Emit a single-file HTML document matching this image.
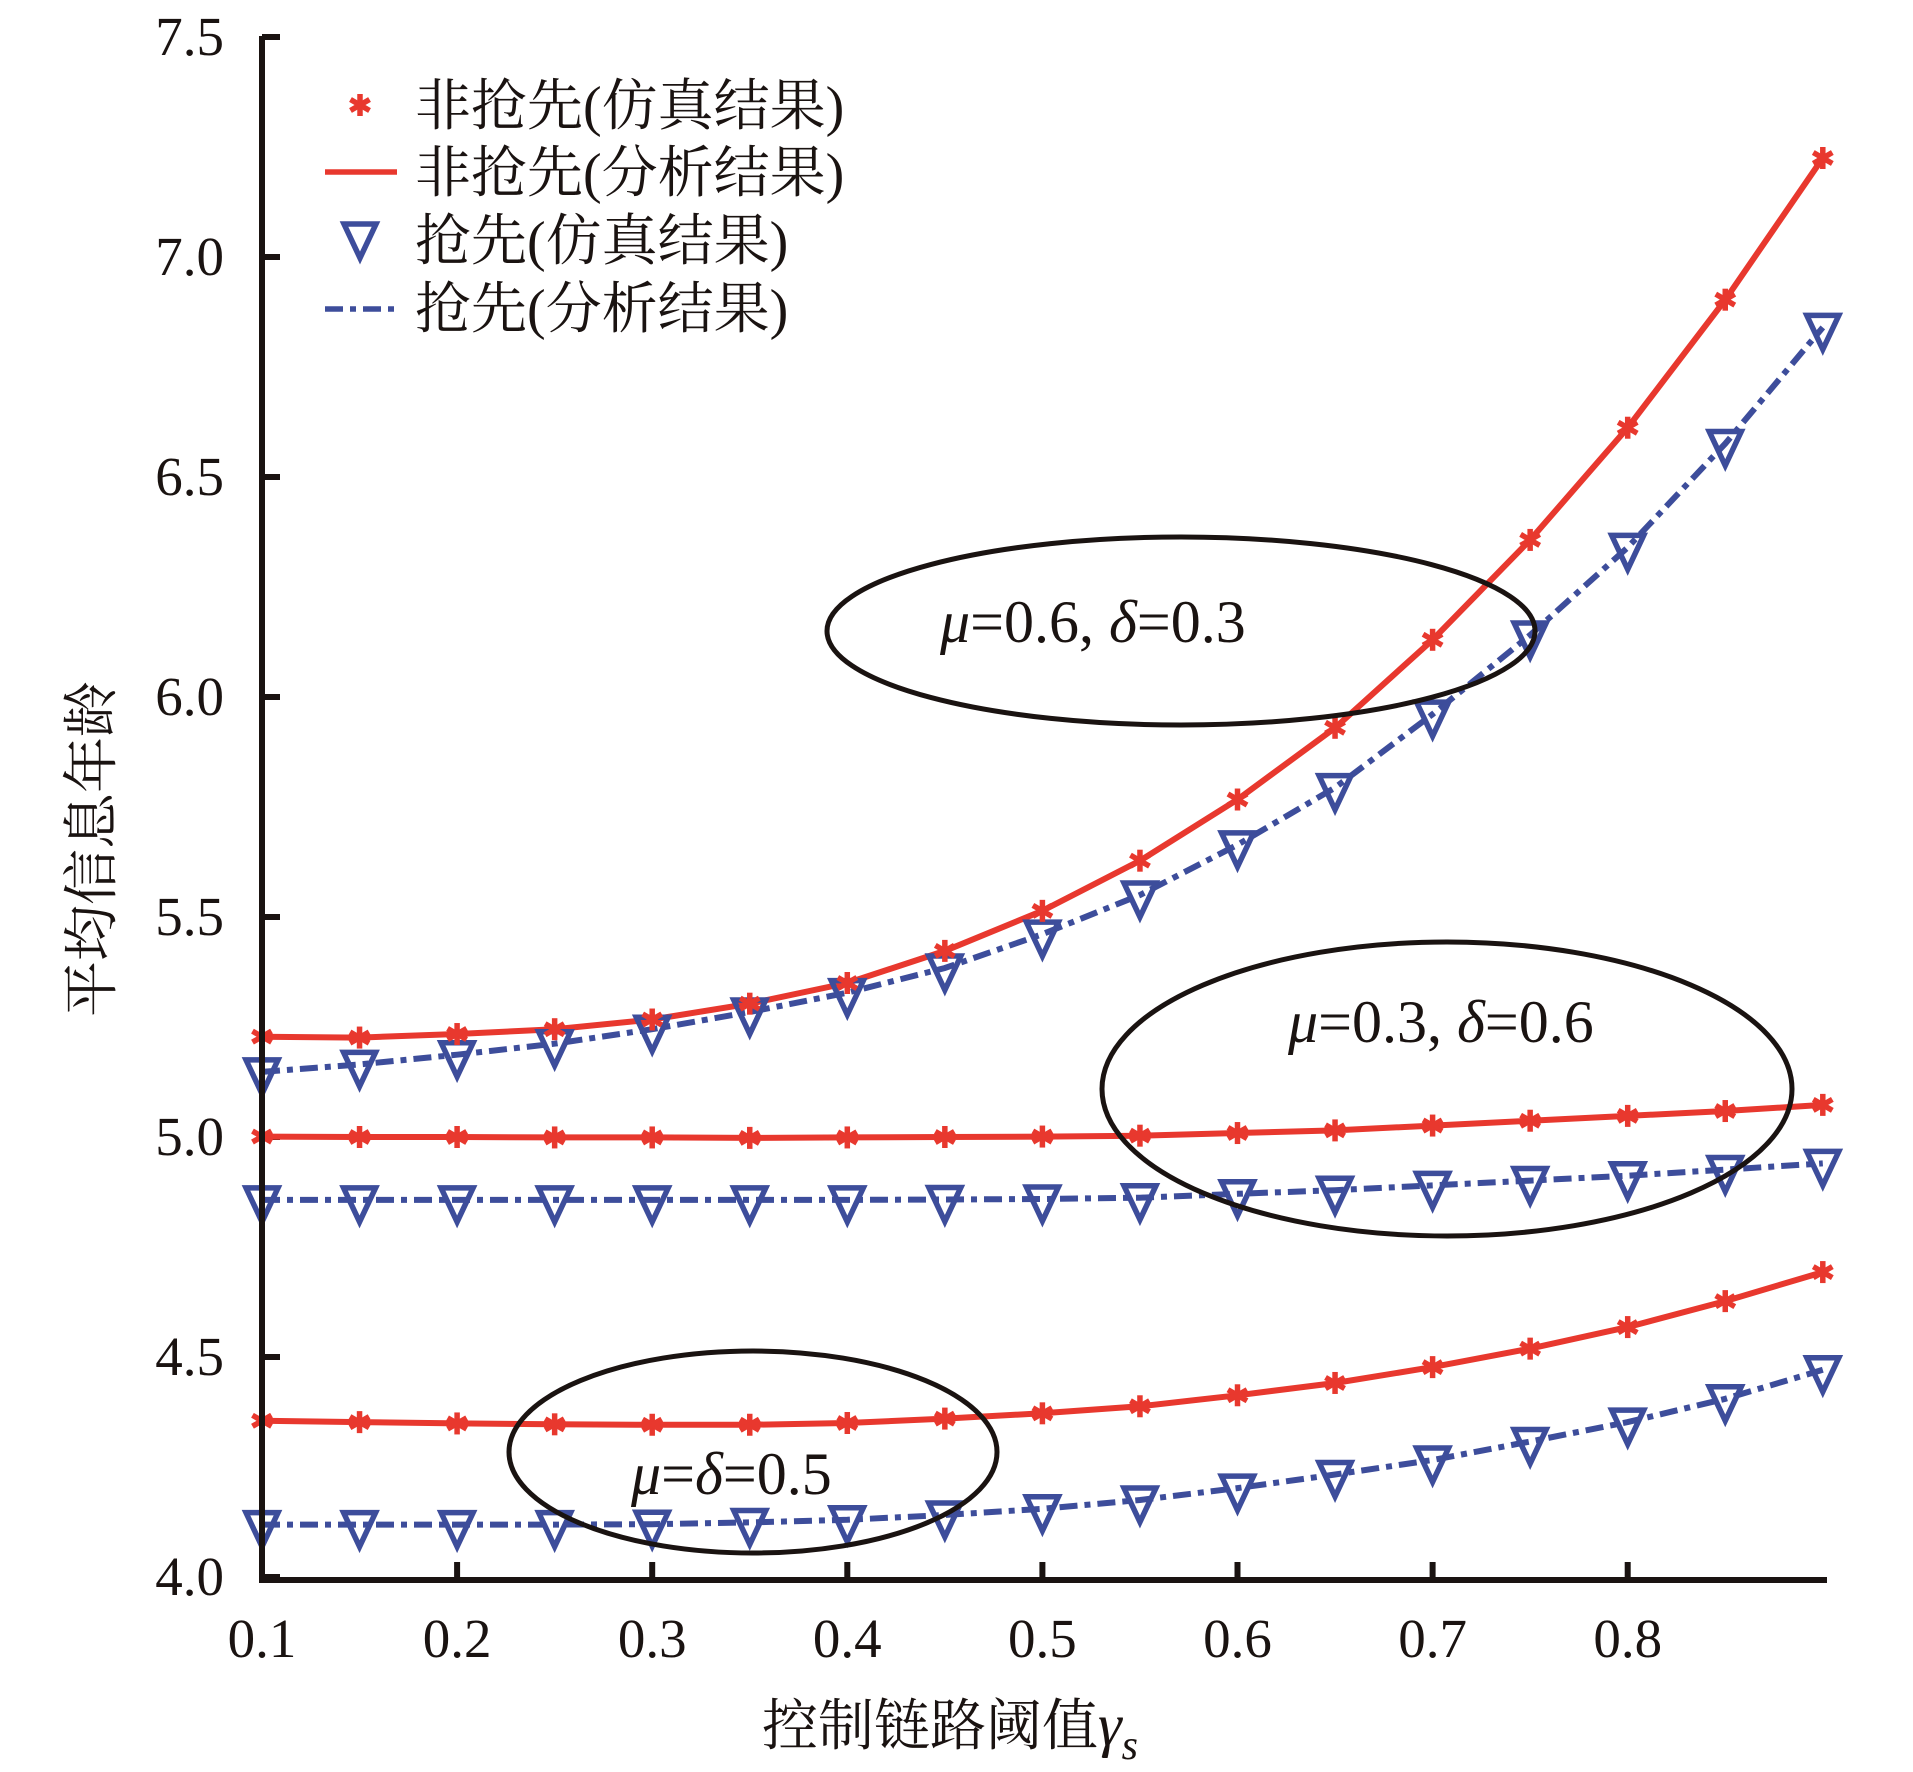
<!DOCTYPE html>
<html><head><meta charset="utf-8"><style>
html,body{margin:0;padding:0;background:#fff;}
svg{display:block;}
.t{font-family:"Liberation Serif",serif;font-size:55px;fill:#1a1311;}
.c{font-family:"Liberation Serif","Noto Serif CJK SC",serif;font-size:56px;fill:#1a1311;}
.i{font-family:"Liberation Serif",serif;font-size:60px;fill:#1a1311;}
</style></head><body>
<svg id="s" width="1913" height="1772" viewBox="0 0 1913 1772" xmlns="http://www.w3.org/2000/svg">
<g id="ticks"></g>
<g id="series"></g>
<ellipse cx="1181" cy="631" rx="354" ry="94" fill="none" stroke="#1a1311" stroke-width="5"/>
<ellipse cx="1447" cy="1089" rx="345" ry="147" fill="none" stroke="#1a1311" stroke-width="5"/>
<ellipse cx="753" cy="1452" rx="244" ry="101" fill="none" stroke="#1a1311" stroke-width="5"/>
<text class="i" x="940" y="642"><tspan font-style="italic">μ</tspan>=0.6, <tspan font-style="italic">δ</tspan>=0.3</text>
<text class="i" x="1288" y="1042"><tspan font-style="italic">μ</tspan>=0.3, <tspan font-style="italic">δ</tspan>=0.6</text>
<text class="i" x="631" y="1494"><tspan font-style="italic">μ</tspan>=<tspan font-style="italic">δ</tspan>=0.5</text>
<path d="M262 36 V1580 H1827" fill="none" stroke="#1a1311" stroke-width="6"/>
<text class="c" x="415" y="125">非抢先(仿真结果)</text>
<text class="c" x="415" y="192">非抢先(分析结果)</text>
<text class="c" x="415" y="260">抢先(仿真结果)</text>
<text class="c" x="415" y="328">抢先(分析结果)</text>
<line x1="325" y1="172" x2="397" y2="172" stroke="#e8382e" stroke-width="5.5"/>
<line x1="325" y1="309" x2="397" y2="309" stroke="#3d4d9b" stroke-width="5.5" stroke-dasharray="18 7 6 7"/>
<g id="leg"></g>
<text class="c" x="0" y="0" text-anchor="middle" transform="translate(111,849) rotate(-90)">平均信息年龄</text>
<text class="c" x="950" y="1745" text-anchor="middle">控制链路阈值<tspan font-family="Liberation Serif" font-style="italic" font-size="60">γ</tspan><tspan font-family="Liberation Serif" font-style="italic" font-size="42" dy="14">s</tspan></text>
</svg>
<script>
const NS="http://www.w3.org/2000/svg";
const X=v=>262+(v-0.1)*1951, Y=v=>1577-(v-4)*440;
function el(t,a,p){const e=document.createElementNS(NS,t);for(const k in a)e.setAttribute(k,a[k]);(p||document.getElementById('series')).appendChild(e);return e;}
const tk=document.getElementById('ticks');
for(let i=0;i<8;i++){const v=4+i*0.5,y=Y(v);el('line',{x1:262,y1:y,x2:280,y2:y,stroke:'#1a1311','stroke-width':6},tk);
 const t=el('text',{x:224,y:y+18,'text-anchor':'end',class:'t'},tk);t.textContent=v.toFixed(1);}
for(let i=0;i<8;i++){const v=0.1+i*0.1,x=X(v);if(i>0)el('line',{x1:x,y1:1580,x2:x,y2:1562,stroke:'#1a1311','stroke-width':6},tk);
 const t=el('text',{x:x,y:1657,'text-anchor':'middle',class:'t'},tk);t.textContent=v.toFixed(1);}
const xs=[];for(let i=0;i<17;i++)xs.push(0.1+i*0.05);
const R=[[5.228,5.226,5.234,5.245,5.267,5.303,5.35,5.423,5.514,5.628,5.767,5.93,6.13,6.357,6.612,6.903,7.225],
[5.001,5.0,5.0,4.999,4.999,4.998,4.999,5.0,5.001,5.003,5.009,5.015,5.026,5.037,5.048,5.059,5.073],
[4.355,4.352,4.349,4.347,4.346,4.346,4.350,4.36,4.372,4.388,4.413,4.441,4.477,4.519,4.568,4.627,4.693]];
const B=[[5.148,5.165,5.187,5.212,5.245,5.284,5.328,5.384,5.461,5.55,5.664,5.794,5.961,6.141,6.34,6.576,6.84],
[4.857,4.857,4.857,4.857,4.857,4.857,4.857,4.858,4.859,4.862,4.871,4.879,4.89,4.901,4.912,4.926,4.94],
[4.119,4.119,4.119,4.119,4.12,4.124,4.13,4.141,4.155,4.175,4.202,4.233,4.266,4.308,4.352,4.405,4.471]];
function path(d){let s='';d.forEach((v,i)=>{s+=(i?'L':'M')+X(xs[i]).toFixed(1)+' '+Y(v).toFixed(1)});return s;}
function star(x,y,g){for(const a of [0,60,120]){const r=a*Math.PI/180;el('line',{x1:x-11*Math.sin(r),y1:y-11*Math.cos(r),x2:x+11*Math.sin(r),y2:y+11*Math.cos(r),stroke:'#e8382e','stroke-width':5.5},g);}}
function tri(x,y,g){el('path',{d:`M${x-16} ${y-12} L${x+16} ${y-12} L${x} ${y+22} Z`,fill:'none',stroke:'#3d4d9b','stroke-width':5.5,'stroke-linejoin':'miter'},g);}
B.forEach(d=>{el('path',{d:path(d),fill:'none',stroke:'#3d4d9b','stroke-width':6,'stroke-dasharray':'18 7 6 7'});});
R.forEach(d=>{el('path',{d:path(d),fill:'none',stroke:'#e8382e','stroke-width':6});});
B.forEach(d=>d.forEach((v,i)=>tri(X(xs[i]),Y(v))));
R.forEach(d=>d.forEach((v,i)=>star(X(xs[i]),Y(v))));
const lg=document.getElementById('leg');star(360,105,lg);tri(360,236,lg);
</script>
</body></html>
